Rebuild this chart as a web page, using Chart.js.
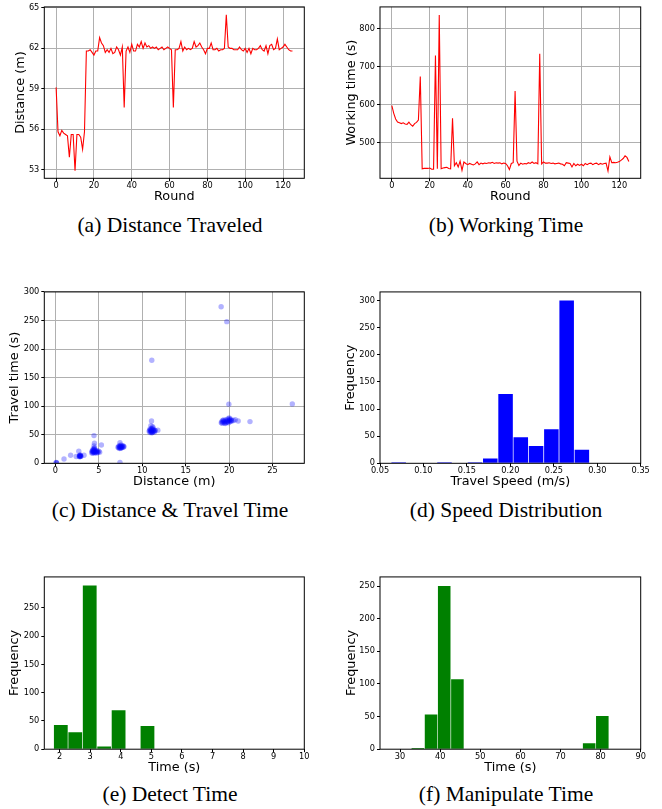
<!DOCTYPE html>
<html>
<head>
<meta charset="utf-8">
<script src="https://cdn.jsdelivr.net/npm/chart.js@4.4.0/dist/chart.umd.min.js"></script>
<style>
    body { margin: 0; background: #fff; }
    #fig { position: relative; width: 662px; height: 809px; overflow: hidden; }
    canvas { position: absolute; }
    .cap { position: absolute; width: 330px; text-align: center; font-family: "Liberation Serif", "Times New Roman", serif; font-size: 21.5px; line-height: 22px; color: #000; white-space: nowrap; }
</style>
</head>
<body>
<div id="fig">
    <canvas id="chartA" width="331" height="205" style="left:0px;top:0px"></canvas>
    <canvas id="chartB" width="331" height="205" style="left:331px;top:0px"></canvas>
    <canvas id="chartC" width="331" height="205" style="left:0px;top:285px"></canvas>
    <canvas id="chartD" width="331" height="205" style="left:331px;top:285px"></canvas>
    <canvas id="chartE" width="331" height="205" style="left:0px;top:569.5px"></canvas>
    <canvas id="chartF" width="331" height="205" style="left:331px;top:569.5px"></canvas>

    <div class="cap" style="left:5px;top:214px">(a) Distance Traveled</div>
    <div class="cap" style="left:341px;top:214px">(b) Working Time</div>
    <div class="cap" style="left:5px;top:499px">(c) Distance &amp; Travel Time</div>
    <div class="cap" style="left:341px;top:499px">(d) Speed Distribution</div>
    <div class="cap" style="left:5px;top:783px">(e) Detect Time</div>
    <div class="cap" style="left:341px;top:783px">(f) Manipulate Time</div>
</div>

<script>
// (a) distancia recorrida por ronda (m), rondas 0..125
var distancePerRound = [
    59.1, 55.8, 55.5, 55.9, 55.7, 55.6, 55.5, 53.9, 55.6, 55.6,
    52.9, 55.6, 55.6, 55.4, 54.5, 55.8, 61.8, 61.8, 61.9, 61.7,
    61.5, 61.8, 61.8, 62.8, 62.4, 62.2, 61.7, 61.9, 61.7, 62.0,
    61.6, 61.7, 62.1, 61.9, 61.5, 62.1, 57.6, 61.8, 62.1, 61.7,
    62.3, 61.8, 61.8, 62.3, 62.1, 62.5, 62.0, 62.4, 62.1, 62.2,
    62.0, 62.1, 62.0, 62.1, 61.9, 62.0, 62.1, 61.9, 62.0, 62.1,
    62.0, 61.9, 57.6, 61.9, 61.9, 62.0, 62.5, 61.8, 62.1, 61.9,
    62.0, 61.9, 62.0, 62.5, 62.1, 62.2, 62.4, 62.1, 61.9, 61.6,
    62.0, 62.0, 62.4, 61.9, 61.9, 62.0, 61.8, 61.9, 61.9, 62.0,
    64.5, 62.1, 62.0, 62.0, 61.9, 61.9, 61.9, 62.1, 61.9, 61.8,
    62.0, 61.7, 62.0, 61.6, 62.0, 61.9, 61.9, 62.0, 62.2, 61.9,
    61.8, 62.2, 61.6, 62.2, 62.3, 61.9, 62.0, 62.7, 61.9, 62.0,
    62.1, 62.3, 62.1, 61.9, 61.8, 61.8
];

// (b) tiempo de trabajo por ronda (s)
var workingTimePerRound = [
    598, 578, 563, 555, 553, 551, 553, 550, 549, 555,
    548, 544, 551, 554, 560, 675, 432, 433, 433, 433,
    434, 431, 431, 730, 432, 837, 432, 434, 435, 436,
    433, 432, 565, 440, 448, 437, 452, 428, 450, 446,
    443, 446, 444, 442, 445, 450, 443, 447, 445, 447,
    446, 448, 447, 449, 446, 448, 447, 448, 445, 447,
    446, 440, 430, 446, 448, 637, 452, 441, 447, 444,
    446, 445, 448, 446, 450, 446, 448, 445, 735, 445,
    450, 447, 447, 448, 446, 447, 445, 446, 447, 445,
    444, 440, 448, 447, 446, 437, 446, 440, 444, 441,
    444, 440, 446, 443, 446, 447, 443, 446, 447, 443,
    446, 444, 446, 447, 426, 463, 448, 449, 448, 449,
    451, 455, 459, 466, 462, 451
];

// (c) distancia (m) y tiempo de viaje (s) de cada trayecto
var travelDistance = [
    0.08, 0.15, 0.12, 1.0, 1.76, 2.4, 2.7, 3.3,
    2.75, 2.8, 2.85, 2.9, 2.8, 2.95, 2.85, 2.9, 2.78, 2.88,
    4.45, 4.5, 4.45, 4.5,
    4.2, 4.25, 4.3, 4.3, 4.35, 4.4, 4.4, 4.45, 4.45, 4.5, 4.5, 4.55, 4.6, 4.6, 4.65, 4.7, 4.75, 4.8, 4.85, 4.9, 5.0, 5.1, 4.35, 4.5, 4.2,
    5.3, 7.44, 7.44,
    7.2, 7.3, 7.3, 7.35, 7.4, 7.45, 7.5, 7.5, 7.55, 7.6, 7.6, 7.65, 7.7, 7.75, 7.8, 7.85, 7.4, 7.55, 7.9,
    11.07, 11.1, 11.8, 11.0, 11.2,
    10.8, 10.85, 10.9, 10.9, 10.95, 11.0, 11.0, 11.05, 11.1, 11.1, 11.15, 11.2, 11.2, 11.25, 11.3, 11.3, 11.35, 11.4, 11.45, 11.5, 11.05, 11.15,
    19.08, 19.73, 19.97, 27.27, 21.04, 20.7, 22.4, 20.5,
    19.1, 19.15, 19.2, 19.25, 19.3, 19.4, 19.45, 19.5, 19.6, 19.65, 19.7, 19.75, 19.8, 19.85, 19.9, 19.95, 20.0, 20.05, 20.1, 20.15, 20.2, 20.25, 20.3, 19.35, 19.55, 20.0
];
var travelTime = [
    1.0, 0.5, 1.5, 7.5, 14, 12, 21, 14,
    12.5, 13, 12, 13.5, 14, 12.5, 13, 12, 11.5, 14.5,
    48.5, 35, 30.5, 27,
    20, 22, 18, 21, 23, 19, 21, 20, 24, 18, 22, 20, 19, 23, 21, 20, 18, 22, 20, 19, 21, 19.5, 25, 25.5, 18,
    32, 36, 1.7,
    28, 29, 27, 31, 28, 30, 27, 29, 32, 28, 30, 27.5, 29, 31, 28, 30, 26, 26.5, 29,
    74, 180.5, 58, 66, 64,
    56, 58, 54, 60, 57, 55, 59, 61, 53.5, 57, 60, 55, 58, 62, 56, 59, 57, 55, 58, 57, 56, 54,
    274, 248, 103.5, 104, 74, 76.3, 73, 75,
    71, 73, 70, 75, 72, 74, 70.5, 73, 76, 71, 74, 72, 77, 73, 75, 71, 78, 74, 76, 73, 77, 75, 74, 76, 69.5, 79.5
];

// (d) histograma de velocidad: centro de cada clase (m/s) y frecuencia
var speedBins = [0.0715, 0.0891, 0.1066, 0.1242, 0.1418, 0.1593, 0.1769, 0.1945, 0.2120, 0.2296, 0.2472, 0.2648, 0.2823];
var speedCounts = [2, 0, 0, 2, 0, 2, 9, 128, 48, 32, 63, 300, 25];

// (e) histograma del tiempo de deteccion (s)
var detectBins = [2.040, 2.512, 2.985, 3.457, 3.929, 4.401, 4.873, 5.346, 5.818, 6.290, 6.762, 7.234, 7.707, 8.179, 8.651, 9.123, 9.595, 10.068];
var detectCounts = [43, 30, 290, 5, 69, 0, 41, 0, 1, 0, 0, 0, 0, 0, 1, 0, 0, 1];

// (f) histograma del tiempo de manipulacion (s)
var manipBins = [34.44, 37.73, 41.01, 44.30, 47.58, 50.87, 54.15, 57.44, 60.72, 64.01, 67.29, 70.58, 73.86, 77.15, 80.43];
var manipCounts = [2, 53, 250, 107, 0, 0, 0, 0, 0, 0, 0, 0, 0, 9, 51];

// Marcas de los ejes
var roundTicks = [0, 20, 40, 60, 80, 100, 120];
var distanceTicks = [53, 56, 59, 62, 65];
var workingTicks = [500, 600, 700, 800];
var travelDistTicks = [0, 5, 10, 15, 20, 25];
var travelTimeTicks = [0, 50, 100, 150, 200, 250, 300];
var speedTicks = [0.05, 0.10, 0.15, 0.20, 0.25, 0.30, 0.35];
var speedFreqTicks = [0, 50, 100, 150, 200, 250, 300];
var detectTicks = [2, 3, 4, 5, 6, 7, 8, 9, 10];
var detectFreqTicks = [0, 50, 100, 150, 200, 250];
var manipTicks = [30, 40, 50, 60, 70, 80, 90];
var manipFreqTicks = [0, 50, 100, 150, 200, 250];

Chart.defaults.font.family = "'DejaVu Sans', sans-serif";
Chart.defaults.color = "#000";
Chart.defaults.animation = false;

var CANVAS_W = 331, CANVAS_H = 205;
var TITLE_HALF = 12.8 * 1.2 / 2;

// Marco negro alrededor del area del grafico (estilo matplotlib)
var framePlugin = {
    id: "frame",
    afterDraw: function (chart) {
        var a = chart.chartArea, ctx = chart.ctx;
        ctx.save();
        ctx.strokeStyle = "#000";
        ctx.lineWidth = 1;
        ctx.strokeRect(a.left, a.top, a.right - a.left, a.bottom - a.top);
        ctx.restore();
    }
};

function toPoints(xs, ys) {
    return ys.map(function (y, i) { return { x: xs ? xs[i] : i, y: y }; });
}

function makeAxis(o, horizontal) {
    var ticks = horizontal ? o.xTicks : o.yTicks;
    return {
        type: "linear",
        min: horizontal ? o.xMin : o.yMin,
        max: horizontal ? o.xMax : o.yMax,
        offset: false,
        bounds: "data",
        afterBuildTicks: function (axis) {
            axis.ticks = ticks.map(function (v) { return { value: v }; });
        },
        afterFit: function (axis) {
            if (horizontal) axis.height = CANVAS_H - o.bottom;
            else axis.width = o.left - o.padLeft;
        },
        grid: {
            drawOnChartArea: o.grid,
            offset: false,
            color: "#b0b0b0",
            lineWidth: 1,
            tickLength: 3,
            tickColor: "#000",
            tickWidth: 1
        },
        border: { display: false },
        ticks: {
            autoSkip: false,
            maxRotation: 0,
            padding: horizontal ? 0 : 2,
            color: "#000",
            font: { size: 8.2 },
            callback: function (v) { return (horizontal && o.xFmt) ? o.xFmt(v) : String(v); }
        },
        title: {
            display: true,
            text: horizontal ? o.xTitle : o.yTitle,
            color: "#000",
            font: { size: 12.8 },
            padding: { top: 0, bottom: horizontal ? (CANVAS_H - o.xTitleY - TITLE_HALF) : 0 }
        }
    };
}

function makeChart(id, type, datasets, o) {
    return new Chart(document.getElementById(id), {
        type: type,
        data: { datasets: datasets },
        options: {
            responsive: false,
            animation: false,
            layout: { padding: { left: o.padLeft, top: o.top, right: CANVAS_W - o.right, bottom: 0 } },
            plugins: { legend: { display: false }, tooltip: { enabled: false } },
            scales: { x: makeAxis(o, true), y: makeAxis(o, false) }
        },
        plugins: [framePlugin]
    });
}

// Geometria de cada columna/fila (en px dentro del canvas)
var leftCol = { left: 44.3, right: 304.3 };
var rightCol = { left: 49, right: 309.7 };

function geom(col, gap, top, bottom, xTitleY) {
    return { left: col.left, right: col.right, padLeft: col.left - gap - TITLE_HALF, top: top, bottom: bottom, xTitleY: xTitleY };
}

function merge(a, b) {
    var r = {}, k;
    for (k in a) r[k] = a[k];
    for (k in b) r[k] = b[k];
    return r;
}

function lineSet(values) {
    return [{
        data: toPoints(null, values),
        borderColor: "#ff0000",
        borderWidth: 1.1,
        pointRadius: 0,
        tension: 0,
        fill: false
    }];
}

function barSet(bins, counts, color) {
    return [{
        data: toPoints(bins, counts),
        backgroundColor: color,
        borderWidth: 0,
        barPercentage: 0.955,
        categoryPercentage: 1,
        grouped: false
    }];
}

// (a)
makeChart("chartA", "line", lineSet(distancePerRound), merge(geom(leftCol, 23.6, 6, 178.3, 196.7), {
    xMin: -6.25, xMax: 131.25, xTicks: roundTicks, xTitle: "Round",
    yMin: 52.34, yMax: 65.08, yTicks: distanceTicks, yTitle: "Distance (m)", grid: true
}));

// (b)
makeChart("chartB", "line", lineSet(workingTimePerRound), merge(geom(rightCol, 28.3, 6, 178.3, 196.7), {
    xMin: -6.25, xMax: 131.25, xTicks: roundTicks, xTitle: "Round",
    yMin: 407, yMax: 858, yTicks: workingTicks, yTitle: "Working time (s)", grid: true
}));

// (c)
makeChart("chartC", "scatter", [{
    data: toPoints(travelDistance, travelTime),
    backgroundColor: "rgba(0, 0, 255, 0.3)",
    borderWidth: 0,
    pointRadius: 2.7
}], merge(geom(leftCol, 29.3, 6, 178.3, 196.7), {
    xMin: -1.27, xMax: 28.65, xTicks: travelDistTicks, xTitle: "Distance (m)",
    yMin: 0, yMax: 300, yTicks: travelTimeTicks, yTitle: "Travel time (s)", grid: true
}));

// (d)
makeChart("chartD", "bar", barSet(speedBins, speedCounts, "#0000ff"), merge(geom(rightCol, 29.3, 6, 178.3, 196.7), {
    xMin: 0.05, xMax: 0.35, xTicks: speedTicks, xTitle: "Travel Speed (m/s)",
    xFmt: function (v) { return v.toFixed(2); },
    yMin: 0, yMax: 316, yTicks: speedFreqTicks, yTitle: "Frequency", grid: false
}));

// (e)
makeChart("chartE", "bar", barSet(detectBins, detectCounts, "#008000"), merge(geom(leftCol, 29.3, 5.8, 179.2, 197.2), {
    xMin: 1.5, xMax: 10, xTicks: detectTicks, xTitle: "Time (s)",
    yMin: 0, yMax: 305, yTicks: detectFreqTicks, yTitle: "Frequency", grid: false
}));

// (f)
makeChart("chartF", "bar", barSet(manipBins, manipCounts, "#008000"), merge(geom(rightCol, 28.3, 5.8, 179.2, 197.2), {
    xMin: 25, xMax: 90, xTicks: manipTicks, xTitle: "Time (s)",
    yMin: 0, yMax: 264, yTicks: manipFreqTicks, yTitle: "Frequency", grid: false
}));
</script>
</body>
</html>
